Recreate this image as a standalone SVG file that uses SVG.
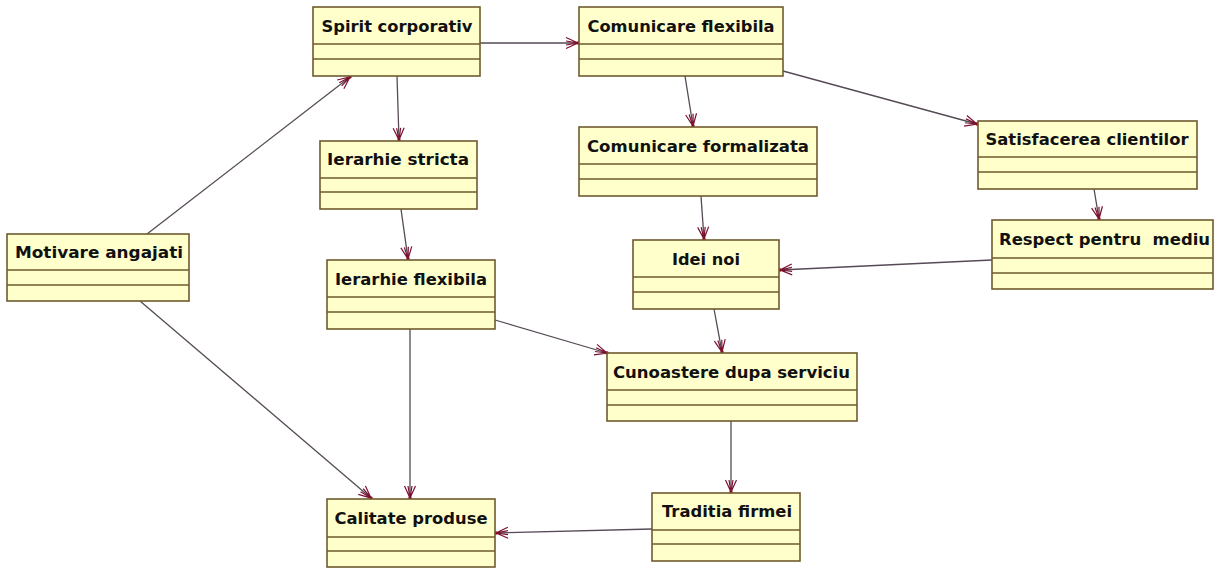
<svg xmlns="http://www.w3.org/2000/svg" width="1215" height="569" viewBox="0 0 1215 569">
  <style>
    .box { fill: #ffffcc; stroke: #6e5a2e; stroke-width: 1.6; }
    .sep { stroke: #6e5a2e; stroke-width: 1.6; }
    .lbl { font-family: "DejaVu Sans", Verdana, sans-serif; font-weight: bold; font-size: 16px; fill: #111; text-anchor: middle; }
    .edge { fill: none; stroke: #554a55; stroke-width: 1.3; marker-end: url(#open); }
  </style>
  <defs>
    <marker id="open" markerUnits="userSpaceOnUse" markerWidth="16" markerHeight="14" refX="0" refY="0" viewBox="-13 -7 16 14" orient="auto">
      <path d="M-12,-5.5 L0,0 L-12,5.5 M-12,-2 L0,0 L-12,2" fill="none" stroke="#7a1030" stroke-width="1.2"/>
      <circle cx="0" cy="0" r="1.7" fill="#8a1020"/>
    </marker>
  </defs>

  <rect width="1215" height="569" fill="#ffffff"/>

  <!-- connectors -->
  <g id="connectors">
    <line class="edge" x1="147" y1="234" x2="350" y2="77"/>
    <line class="edge" x1="140" y1="301" x2="371" y2="498"/>
    <line class="edge" x1="480" y1="43" x2="578" y2="43"/>
    <line class="edge" x1="397" y1="76" x2="399" y2="140"/>
    <line class="edge" x1="401" y1="209" x2="408" y2="259"/>
    <line class="edge" x1="410" y1="329" x2="410" y2="498"/>
    <line class="edge" x1="495" y1="320" x2="607" y2="353"/>
    <line class="edge" x1="685" y1="76" x2="693" y2="126"/>
    <line class="edge" x1="783" y1="71" x2="977" y2="124"/>
    <line class="edge" x1="701" y1="196" x2="704" y2="239"/>
    <line class="edge" x1="1094" y1="189" x2="1099" y2="219"/>
    <line class="edge" x1="992" y1="260" x2="780" y2="270"/>
    <line class="edge" x1="714" y1="309" x2="722" y2="352"/>
    <line class="edge" x1="731" y1="421" x2="731" y2="492"/>
    <line class="edge" x1="652" y1="529" x2="496" y2="533"/>
  </g>

  <g id="spirit-corporativ">
    <rect class="box" x="313" y="7" width="167" height="69"/>
    <line class="sep" x1="313" y1="44" x2="480" y2="44"/>
    <line class="sep" x1="313" y1="59" x2="480" y2="59"/>
    <text class="lbl" x="397" y="32" textLength="151" lengthAdjust="spacingAndGlyphs">Spirit corporativ</text>
  </g>

  <g id="comunicare-flexibila">
    <rect class="box" x="579" y="7" width="204" height="69"/>
    <line class="sep" x1="579" y1="44" x2="783" y2="44"/>
    <line class="sep" x1="579" y1="59" x2="783" y2="59"/>
    <text class="lbl" x="681" y="32" textLength="187" lengthAdjust="spacingAndGlyphs">Comunicare flexibila</text>
  </g>

  <g id="motivare-angajati">
    <rect class="box" x="7" y="234" width="182" height="67"/>
    <line class="sep" x1="7" y1="270" x2="189" y2="270"/>
    <line class="sep" x1="7" y1="285" x2="189" y2="285"/>
    <text class="lbl" x="99" y="258" textLength="168" lengthAdjust="spacingAndGlyphs">Motivare angajati</text>
  </g>

  <g id="ierarhie-stricta">
    <rect class="box" x="320" y="141" width="157" height="68"/>
    <line class="sep" x1="320" y1="178" x2="477" y2="178"/>
    <line class="sep" x1="320" y1="192" x2="477" y2="192"/>
    <text class="lbl" x="398" y="165" textLength="142" lengthAdjust="spacingAndGlyphs">Ierarhie stricta</text>
  </g>

  <g id="ierarhie-flexibila">
    <rect class="box" x="327" y="260" width="168" height="69"/>
    <line class="sep" x1="327" y1="297" x2="495" y2="297"/>
    <line class="sep" x1="327" y1="312" x2="495" y2="312"/>
    <text class="lbl" x="411" y="285" textLength="152" lengthAdjust="spacingAndGlyphs">Ierarhie flexibila</text>
  </g>

  <g id="comunicare-formalizata">
    <rect class="box" x="579" y="127" width="238" height="69"/>
    <line class="sep" x1="579" y1="164" x2="817" y2="164"/>
    <line class="sep" x1="579" y1="179" x2="817" y2="179"/>
    <text class="lbl" x="698" y="152" textLength="222" lengthAdjust="spacingAndGlyphs">Comunicare formalizata</text>
  </g>

  <g id="satisfacerea-clientilor">
    <rect class="box" x="978" y="121" width="219" height="68"/>
    <line class="sep" x1="978" y1="157" x2="1197" y2="157"/>
    <line class="sep" x1="978" y1="172" x2="1197" y2="172"/>
    <text class="lbl" x="1087" y="145" textLength="203" lengthAdjust="spacingAndGlyphs">Satisfacerea clientilor</text>
  </g>

  <g id="respect-pentru-mediu">
    <rect class="box" x="992" y="220" width="221" height="69"/>
    <line class="sep" x1="992" y1="258" x2="1213" y2="258"/>
    <line class="sep" x1="992" y1="273" x2="1213" y2="273"/>
    <text class="lbl" x="1104.5" y="245" textLength="211" lengthAdjust="spacingAndGlyphs" xml:space="preserve">Respect pentru  mediu</text>
  </g>

  <g id="idei-noi">
    <rect class="box" x="633" y="240" width="146" height="69"/>
    <line class="sep" x1="633" y1="277" x2="779" y2="277"/>
    <line class="sep" x1="633" y1="292" x2="779" y2="292"/>
    <text class="lbl" x="706" y="265" textLength="68" lengthAdjust="spacingAndGlyphs">Idei noi</text>
  </g>

  <g id="cunoastere-dupa-serviciu">
    <rect class="box" x="607" y="353" width="250" height="68"/>
    <line class="sep" x1="607" y1="390" x2="857" y2="390"/>
    <line class="sep" x1="607" y1="405" x2="857" y2="405"/>
    <text class="lbl" x="731.5" y="378" textLength="237" lengthAdjust="spacingAndGlyphs">Cunoastere dupa serviciu</text>
  </g>

  <g id="traditia-firmei">
    <rect class="box" x="652" y="493" width="148" height="68"/>
    <line class="sep" x1="652" y1="530" x2="800" y2="530"/>
    <line class="sep" x1="652" y1="544" x2="800" y2="544"/>
    <text class="lbl" x="727" y="517" textLength="130" lengthAdjust="spacingAndGlyphs">Traditia firmei</text>
  </g>

  <g id="calitate-produse">
    <rect class="box" x="327" y="499" width="168" height="68"/>
    <line class="sep" x1="327" y1="537" x2="495" y2="537"/>
    <line class="sep" x1="327" y1="551" x2="495" y2="551"/>
    <text class="lbl" x="411" y="524" textLength="153" lengthAdjust="spacingAndGlyphs">Calitate produse</text>
  </g>
</svg>
